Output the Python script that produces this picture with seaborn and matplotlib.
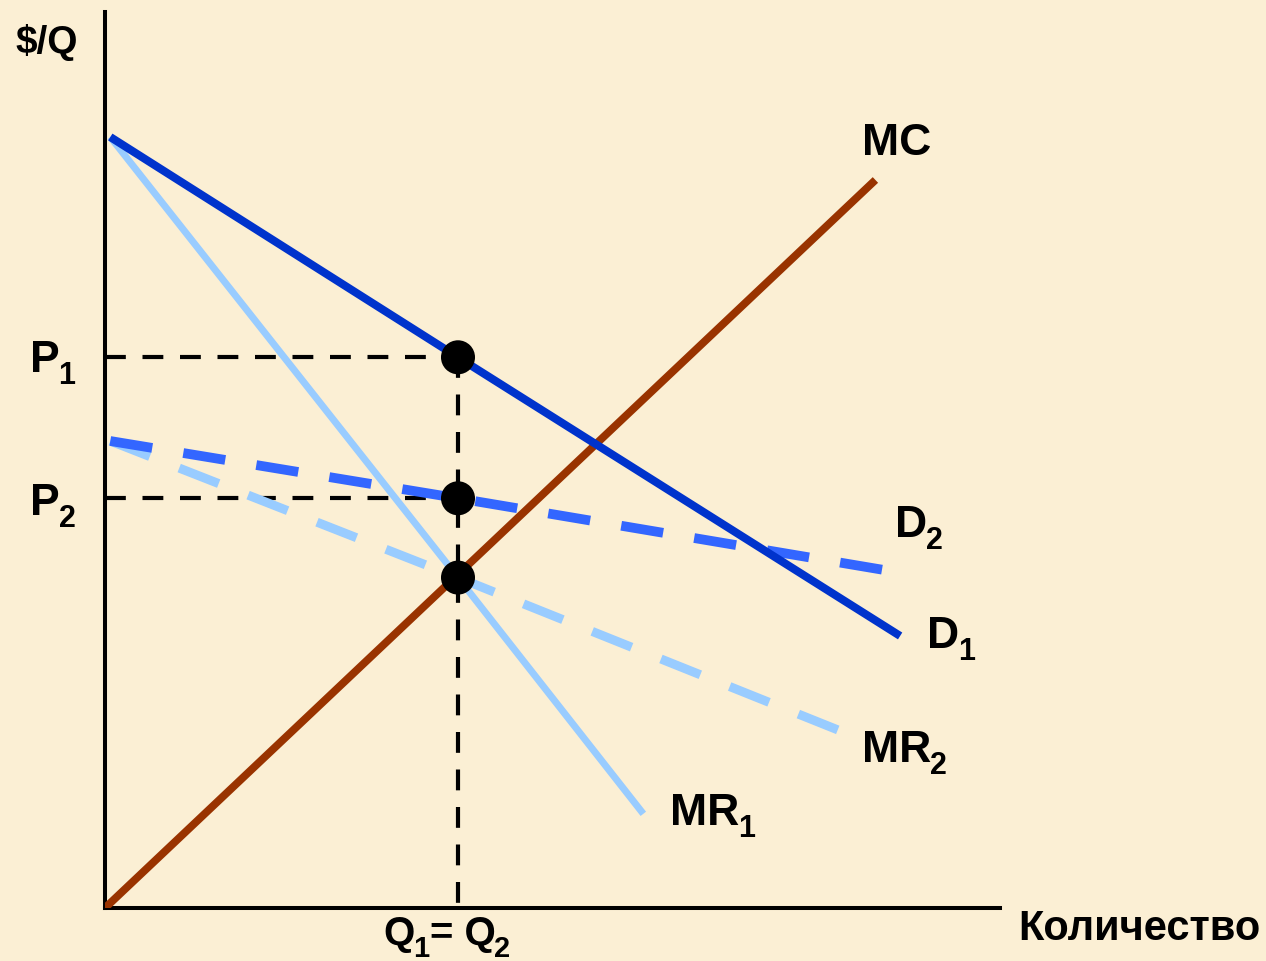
import matplotlib
matplotlib.use("Agg")
import matplotlib.pyplot as plt
import seaborn as sns

# ---- data (economic units: quantity, price) ----
d1_q = [0.06, 4.0, 9.01]
d1_p = [14.0, 10.0, 4.94]
mr1_q = [0.06, 4.0, 6.10]
mr1_p = [14.0, 6.0, 1.71]
mc_q = [0.0, 8.73]
mc_p = [0.0, 13.22]
d2_q = [0.06, 4.0, 8.82]
d2_p = [8.48, 7.44, 6.14]
mr2_q = [0.06, 4.0, 8.31]
mr2_p = [8.48, 6.0, 3.23]
eq_q = [4.0, 4.0, 4.0]
eq_p = [10.0, 7.44, 6.0]
q_star = 4.0
p1 = 10.0
p2 = 7.44

BG = "#fbefd4"
sns.set_theme(style="white")
plt.rcParams["font.family"] = ["Liberation Sans", "DejaVu Sans"]

W, H = 1266, 961
fig = plt.figure(figsize=(W / 100, H / 100), dpi=100, facecolor=BG)
ax = fig.add_axes([105 / W, (H - 908) / H, (1000 - 105) / W, (908 - 12) / H])
ax.set_facecolor(BG)
ax.set_xlim(0, 895 / 88.25)
ax.set_ylim(0, 896 / 55.07)

for s in ["top", "right"]:
    ax.spines[s].set_visible(False)
for s in ["left", "bottom"]:
    ax.spines[s].set_color("black")
    ax.spines[s].set_linewidth(2.9)
ax.set_xticks([])
ax.set_yticks([])

# guide lines
gd = dict(color="black", lw=3.0, linestyle=(0, (5.0, 4.0)), zorder=2)
sns.lineplot(x=[0, q_star], y=[p1, p1], ax=ax, **gd)
sns.lineplot(x=[0, q_star], y=[p2, p2], ax=ax, **gd)
ax.plot([q_star, q_star], [p1, -0.18], clip_on=False, **gd)

# curves
sns.lineplot(x=mr1_q, y=mr1_p, ax=ax, color="#99ccff", lw=5.0, zorder=3,
             solid_capstyle="butt")
sns.lineplot(x=mr2_q, y=mr2_p, ax=ax, color="#99ccff", lw=6.5, zorder=3,
             linestyle=(0, (4.7, 3.5)), dash_capstyle="butt")
sns.lineplot(x=d2_q, y=d2_p, ax=ax, color="#3366ff", lw=7.0, zorder=4,
             linestyle=(0, (4.37, 3.24)), dash_capstyle="butt")
sns.lineplot(x=mc_q, y=mc_p, ax=ax, color="#993300", lw=5.6, zorder=4,
             solid_capstyle="butt")
sns.lineplot(x=d1_q, y=d1_p, ax=ax, color="#0033cc", lw=5.8, zorder=5,
             solid_capstyle="butt")

# equilibrium points
sns.scatterplot(x=eq_q, y=eq_p, ax=ax, s=24.5 ** 2, color="black",
                edgecolor="none", zorder=6, legend=False)
ax.set_xlabel("")
ax.set_ylabel("")

fig.canvas.draw()
renderer = fig.canvas.get_renderer()


def label(px, py, parts, size=32, subsize=22, drop=12):
    """parts: list of (text, is_subscript); px, py = left / baseline pixel."""
    x = px
    for txt, sub in parts:
        y = py + (drop if sub else 0)
        t = fig.text(x / W, 1 - y / H, txt, fontsize=subsize if sub else size,
                     fontweight="bold", color="black", ha="left", va="baseline",
                     parse_math=False)
        bb = t.get_window_extent(renderer=renderer)
        x += bb.width - (1 if not sub else 0)


label(15, 53, [("$/Q", False)], size=28)
label(862, 155, [("MC", False)])
label(30, 372, [("P", False), ("1", True)])
label(30, 515, [("P", False), ("2", True)])
label(895, 537, [("D", False), ("2", True)])
label(927, 648, [("D", False), ("1", True)])
label(862, 762, [("MR", False), ("2", True)])
label(670, 825, [("MR", False), ("1", True)])
label(383, 945, [("Q", False), ("1", True), ("= Q", False), ("2", True)],
      size=29, subsize=21)
label(1018, 940, [("Количество", False)], size=30)

fig.savefig("out.png", dpi=100, facecolor=BG)
